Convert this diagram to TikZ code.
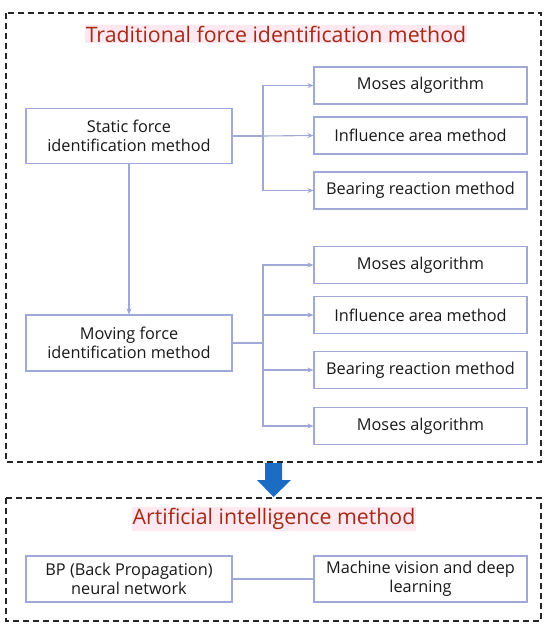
\documentclass[tikz,border=0pt]{standalone}
\usepackage{fontspec}
\setmainfont{Open Sans}
\usetikzlibrary{arrows.meta}
\definecolor{lnc}{RGB}{160,168,218}
\definecolor{ttl}{RGB}{165,42,22}
\definecolor{hl}{RGB}{255,232,240}
\definecolor{bigarrow}{RGB}{28,108,196}
\begin{document}
\begin{tikzpicture}[x=1pt,y=-1pt,
  box/.style={draw=lnc,line width=1.1pt,fill=white,align=center,inner sep=2pt,font=\fontsize{16.3}{19.5}\selectfont,text=black!90},
  lbox/.style={box,minimum width=206pt},
  rbox/.style={box,minimum width=213pt,minimum height=37pt},
  conn/.style={draw=lnc,line width=1.1pt},
  arr/.style={conn,-{Stealth[length=6pt,width=5pt]}},
  frame/.style={draw=black!85,line width=1.3pt,dash pattern=on 6pt off 4pt},
  title/.style={fill=hl,text=ttl,inner sep=1pt,font=\fontsize{21.3}{24}\selectfont}]
\useasboundingbox (0,0) rectangle (550,632);
\fill[white] (0,0) rectangle (550,632);
% frames
\draw[frame] (6,13) rectangle (541,462);
\draw[frame] (6,498) rectangle (541,621);
% titles
\node[title] (t1) at (276,34) {Traditional force identification method};
\node[title] (t2) at (274,519) {Artificial intelligence method};
% left boxes
\node[lbox,minimum height=55pt] (st) at (129,136) {Static force\\identification method};
\node[lbox,minimum height=56pt] (mv) at (129,343) {Moving force\\identification method};
% right boxes
\node[rbox] (r1) at (420.5,85.5) {Moses algorithm};
\node[rbox] (r2) at (420.5,135.5) {Influence area method};
\node[rbox] (r3) at (420.5,190.5) {Bearing reaction method};
\node[rbox] (r4) at (420.5,265) {Moses algorithm};
\node[rbox] (r5) at (420.5,315) {Influence area method};
\node[rbox] (r6) at (420.5,370) {Bearing reaction method};
\node[rbox] (r7) at (420.5,426) {Moses algorithm};
% AI boxes
\node[lbox,minimum height=46pt] (bp) at (129,579) {BP (Back Propagation)\\neural network};
\node[rbox,minimum height=46pt] (mvd) at (420.5,579) {Machine vision and deep\\learning};
% connectors
\coordinate (b1) at (263,136);
\coordinate (b2) at (263,343);
\draw[conn] (st.east) -- (b1);
\draw[arr] (b1) |- (r1.west);
\draw[arr] (b1) -- (r2.west);
\draw[arr] (b1) |- (r3.west);
\draw[arr] (st.south) -- (mv.north);
\draw[conn] (mv.east) -- (b2);
\draw[arr] (b2) |- (r4.west);
\draw[arr] (b2) |- (r5.west);
\draw[arr] (b2) |- (r6.west);
\draw[arr] (b2) |- (r7.west);
\draw[conn] (bp.east) -- (mvd.west);
% big arrow
\fill[bigarrow] (265,463) -- (282,463) -- (282,480) -- (291,480) -- (273.5,497) -- (257,480) -- (265,480) -- cycle;
\end{tikzpicture}
\end{document}
